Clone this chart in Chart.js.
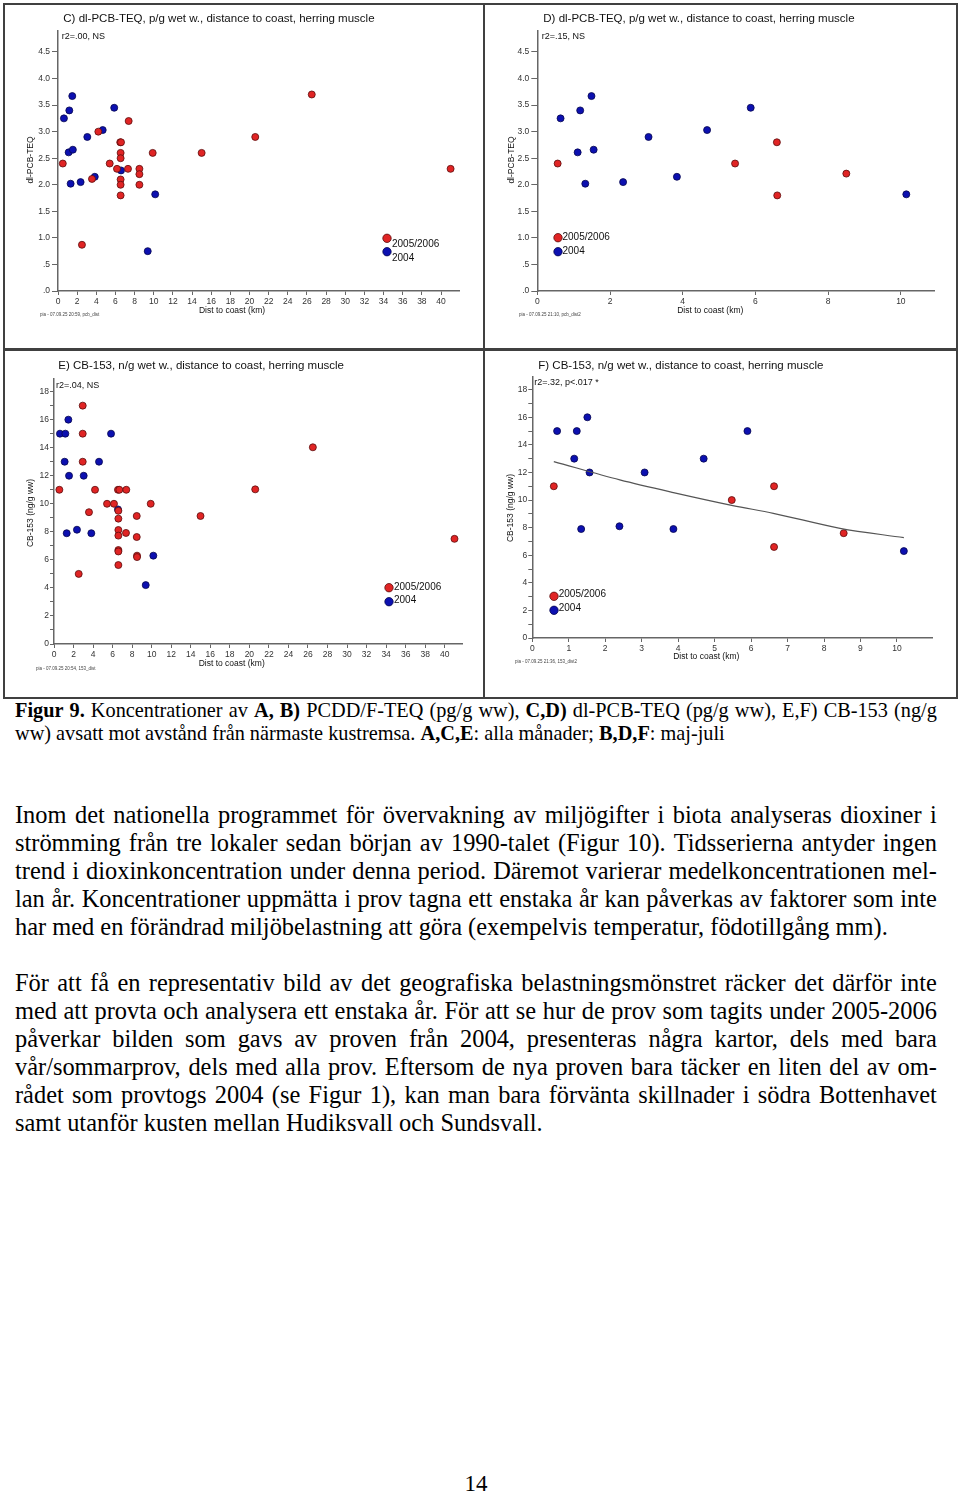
<!DOCTYPE html>
<html><head><meta charset="utf-8">
<script src="https://cdn.jsdelivr.net/npm/chart.js@4.4.1/dist/chart.umd.min.js"></script>
<style>
html,body{margin:0;padding:0;background:#fff;}
body{width:960px;height:1495px;position:relative;overflow:hidden;font-family:"Liberation Sans",Arial,sans-serif;color:#111;}
canvas{position:absolute;}
.t{position:absolute;white-space:nowrap;line-height:1;}
.rot{position:absolute;white-space:nowrap;line-height:1;transform:translate(-50%,-50%) rotate(-90deg);}
.fr{position:absolute;background:#404040;}
.tl{position:absolute;white-space:nowrap;font-family:"Liberation Serif","Times New Roman",serif;color:#000;}
</style></head><body>
<canvas id="cC"></canvas><canvas id="cD"></canvas><canvas id="cE"></canvas><canvas id="cF"></canvas>
<div class="fr" style="left:3px;top:3px;width:955px;height:2px"></div>
<div class="fr" style="left:3px;top:697px;width:955px;height:2px"></div>
<div class="fr" style="left:3px;top:3px;width:2px;height:696px"></div>
<div class="fr" style="left:956px;top:3px;width:2px;height:696px"></div>
<div class="fr" style="left:483px;top:3px;width:2px;height:696px"></div>
<div class="fr" style="left:3px;top:348px;width:955px;height:3px"></div>
<div id="txt"></div>
<script>
// ---------- data ----------
const yTicksTEQ = [0,0.5,1,1.5,2,2.5,3,3.5,4,4.5];
const yTicksCB = [0,1,2,3,4,5,6,7,8,9,10,11,12,13,14,15,16,17,18];
const xTicksWide = [0,2,4,6,8,10,12,14,16,18,20,22,24,26,28,30,32,34,36,38,40];
const xTicksD = [0,2,4,6,8,10];
const xTicksF = [0,1,2,3,4,5,6,7,8,9,10];

const cBlueX = [0.62,1.18,1.49,1.11,1.55,3.06,4.67,5.87,1.32,2.36,3.84,10.15,6.58,9.37];
const cBlueY = [3.25,3.40,3.67,2.61,2.66,2.90,3.03,3.45,2.02,2.05,2.15,1.82,2.27,0.75];
const cRedX = [0.50,4.21,7.38,6.50,6.58,6.54,6.54,5.40,6.16,7.31,8.50,8.50,8.50,6.54,6.54,6.54,3.55,9.89,15.0,20.6,26.5,41.0,2.50];
const cRedY = [2.40,3.00,3.20,2.80,2.80,2.60,2.50,2.40,2.30,2.30,2.30,2.20,2.00,2.10,2.00,1.80,2.11,2.60,2.60,2.90,3.70,2.30,0.87];

const dBlueX = [0.64,1.18,1.49,1.11,1.55,3.06,4.67,5.87,1.32,2.36,3.84,10.15];
const dBlueY = [3.25,3.40,3.67,2.61,2.66,2.90,3.03,3.45,2.02,2.05,2.15,1.82];
const dRedX = [0.56,5.44,6.59,8.50,6.60];
const dRedY = [2.40,2.40,2.80,2.21,1.80];

const eBlueX = [1.47,0.61,1.16,5.84,1.09,4.61,1.54,3.04,6.55,1.30,2.35,3.82,10.17,9.39];
const eBlueY = [16,15,15,15,13,13,12,12,9.6,7.9,8.15,7.9,6.3,4.2];
const eRedX = [2.94,2.94,2.94,0.55,4.20,6.55,6.69,7.40,5.43,6.14,9.90,3.58,6.59,6.59,8.47,6.59,6.59,7.37,8.47,6.59,6.59,8.50,8.50,6.59,2.53,15.0,20.6,26.5,41.0];
const eRedY = [17,15,13,11,11,11,11,11,10,10,10,9.4,9.5,8.94,9.13,8.13,7.73,7.92,7.63,6.7,6.6,6.3,6.2,5.63,5.0,9.13,11.03,14.03,7.5];

const fBlueX = [0.68,1.22,1.51,1.15,1.57,3.08,4.70,5.90,1.34,2.39,3.87,10.19];
const fBlueY = [15,15,16,13,12,12,13,15,7.9,8.1,7.9,6.3];
const fRedX = [0.59,5.47,6.63,6.63,8.54];
const fRedY = [11,10,11,6.6,7.6];
const fTrendX = [0.59,2.40,3.87,5.50,6.61,8.44,10.19];
const fTrendY = [12.79,11.46,10.54,9.60,9.04,7.95,7.27];

const seriesNames = ['2005/2006','2004'];

// ---------- helpers ----------
const FAM = '"Liberation Sans", Arial, sans-serif';
const RED = {bg:'#e02424', bd:'#5a0c0c'};
const BLUE = {bg:'#0c10b0', bd:'#06064e'};
function pts(xs, ys){ return xs.map((x,i)=>({x:x, y:ys[i]})); }
function teqFmt(v){ if (v===0) return '.0'; if (v===0.5) return '.5'; return v.toFixed(1); }
function cbFmt(v){ return (v % 2 === 0) ? String(v) : ''; }
function intFmt(v){ return String(v); }

const legendPlugin = {
  id:'custLegend',
  afterDatasetsDraw(chart, args, o){
    if (!o || !o.items) return;
    const ctx = chart.ctx;
    ctx.save();
    o.items.forEach(it=>{
      ctx.beginPath();
      ctx.arc(it.cx, it.cy, 4.2, 0, Math.PI*2);
      ctx.fillStyle = it.c.bg; ctx.fill();
      ctx.lineWidth = 0.8; ctx.strokeStyle = it.c.bd; ctx.stroke();
      ctx.fillStyle = '#111';
      ctx.font = '10px ' + FAM;
      ctx.textBaseline = 'middle';
      ctx.textAlign = 'left';
      ctx.fillText(it.label, it.tx, it.ty);
    });
    ctx.restore();
  }
};

function makeChart(id, box, area, xMax, yMax, xt, yt, xFmt, yFmt, yTickLen, yPad, datasets, leg){
  const cv = document.getElementById(id);
  cv.width = box.w; cv.height = box.h;
  cv.style.left = box.x+'px'; cv.style.top = box.y+'px';
  cv.style.width = box.w+'px'; cv.style.height = box.h+'px';
  const items = leg.map(l=>({c:l.c, label:l.label, cx:l.cx-box.x, cy:l.cy-box.y, tx:l.tx-box.x, ty:l.ty-box.y}));
  const axisCommon = {
    type:'linear',
    border:{display:true, color:'#666', width:1.5},
  };
  new Chart(cv, {
    type:'scatter',
    data:{datasets:datasets},
    options:{
      animation:false, responsive:false, devicePixelRatio:1, events:[],
      layout:{padding:{left:0, top:area.t-box.y, right:(box.x+box.w)-area.r, bottom:0}},
      plugins:{legend:{display:false}, tooltip:{enabled:false}, custLegend:{items:items}},
      scales:{
        x:Object.assign({}, axisCommon, {
          min:0, max:xMax, position:'bottom',
          grid:{drawOnChartArea:false, drawTicks:true, color:'#666', tickLength:4},
          afterBuildTicks(s){ s.ticks = xt.map(v=>({value:v})); },
          afterFit(s){ s.height = (box.y+box.h) - area.b; },
          ticks:{font:{size:8.5, family:FAM}, color:'#333', padding:2, maxRotation:0, minRotation:0, autoSkip:false, callback:(v)=>xFmt(v)}
        }),
        y:Object.assign({}, axisCommon, {
          min:0, max:yMax, position:'left',
          grid:{drawOnChartArea:false, drawTicks:true, color:'#666', tickLength:yTickLen},
          afterBuildTicks(s){ s.ticks = yt.map(v=>({value:v})); },
          afterFit(s){ s.width = area.l - box.x; },
          ticks:{font:{size:8.5, family:FAM}, color:'#333', padding:yPad, autoSkip:false, callback:(v)=>yFmt(v)}
        })
      }
    },
    plugins:[legendPlugin]
  });
}
function sc(xs, ys, c, label){
  return {label:label, data:pts(xs,ys), pointRadius:3.5, pointBorderWidth:0.8,
          backgroundColor:c.bg, borderColor:c.bd, pointBackgroundColor:c.bg, pointBorderColor:c.bd, showLine:false};
}

// C
makeChart('cC', {x:6,y:6,w:476,h:341}, {l:58,t:31,r:459.5,b:291}, 41.93, 4.895, xTicksWide, yTicksTEQ, intFmt, teqFmt, 6, 2,
  [sc(cRedX,cRedY,RED,seriesNames[0]), sc(cBlueX,cBlueY,BLUE,seriesNames[1])],
  [{c:RED,label:seriesNames[0],cx:387,cy:238.3,tx:392,ty:244.7},{c:BLUE,label:seriesNames[1],cx:387,cy:251.7,tx:392,ty:258}]);
// D
makeChart('cD', {x:486,y:6,w:469,h:341}, {l:537.3,t:31,r:934.3,b:291}, 10.92, 4.895, xTicksD, yTicksTEQ, intFmt, teqFmt, 6, 2,
  [sc(dRedX,dRedY,RED,seriesNames[0]), sc(dBlueX,dBlueY,BLUE,seriesNames[1])],
  [{c:RED,label:seriesNames[0],cx:558,cy:237.7,tx:562.5,ty:237.3},{c:BLUE,label:seriesNames[1],cx:558,cy:251.7,tx:562.5,ty:251.3}]);
// E
makeChart('cE', {x:6,y:352,w:476,h:344}, {l:54,t:379,r:462.7,b:644}, 41.84, 18.9, xTicksWide, yTicksCB, intFmt, cbFmt, 4, 1,
  [sc(eRedX,eRedY,RED,seriesNames[0]), sc(eBlueX,eBlueY,BLUE,seriesNames[1])],
  [{c:RED,label:seriesNames[0],cx:389,cy:587.7,tx:394,ty:587},{c:BLUE,label:seriesNames[1],cx:389,cy:601.7,tx:394,ty:600.3}]);
// F
makeChart('cF', {x:486,y:352,w:469,h:344}, {l:532.3,t:377,r:932.3,b:638}, 10.97, 18.92, xTicksF, yTicksCB, intFmt, cbFmt, 4, 1,
  [{type:'line', label:'trend', data:pts(fTrendX,fTrendY), borderColor:'#555', borderWidth:1.2, pointRadius:0, fill:false, showLine:true, cubicInterpolationMode:'monotone'},
   sc(fRedX,fRedY,RED,seriesNames[0]), sc(fBlueX,fBlueY,BLUE,seriesNames[1])],
  [{c:RED,label:seriesNames[0],cx:554,cy:596.3,tx:558.7,ty:594.3},{c:BLUE,label:seriesNames[1],cx:554,cy:610.3,tx:558.7,ty:608}]);

// ---------- texts ----------
const T = document.getElementById('txt');
function t(x, yc, s, size, extra){
  const d = document.createElement('div'); d.className='t';
  d.style.left = x+'px'; d.style.top = (yc - size*0.5)+'px'; d.style.fontSize = size+'px';
  if (extra) d.style.cssText += extra;
  d.textContent = s; T.appendChild(d); return d;
}
function tc(xc, yc, s, size){
  const d = t(xc, yc, s, size); d.style.transform = 'translateX(-50%)'; return d;
}
function tr(xc, yc, s, size){
  const d = document.createElement('div'); d.className='rot';
  d.style.left = xc+'px'; d.style.top = yc+'px'; d.style.fontSize = size+'px';
  d.textContent = s; T.appendChild(d);
}
t(63.3, 18.3, 'C) dl-PCB-TEQ, p/g wet w., distance to coast, herring muscle', 11.5);
t(543.3, 18.3, 'D) dl-PCB-TEQ, p/g wet w., distance to coast, herring muscle', 11.5);
t(58.3, 366, 'E) CB-153, n/g wet w., distance to coast, herring muscle', 11.5);
t(538.3, 365.7, 'F) CB-153, n/g wet w., distance to coast, herring muscle', 11.5);
t(61.7, 36, 'r2=.00, NS', 9);
t(541.7, 36, 'r2=.15, NS', 9);
t(56, 385, 'r2=.04, NS', 9);
t(534.3, 382.3, 'r2=.32, p<.017 *', 9);
tc(232, 310, 'Dist to coast (km)', 8.5);
tc(710.3, 310, 'Dist to coast (km)', 8.5);
tc(231.7, 663.3, 'Dist to coast (km)', 8.5);
tc(706.3, 656.7, 'Dist to coast (km)', 8.5);
tr(30, 160, 'dl-PCB-TEQ', 8.5);
tr(511, 160, 'dl-PCB-TEQ', 8.5);
tr(30, 513, 'CB-153 (ng/g ww)', 8.5);
tr(509.5, 508, 'CB-153 (ng/g ww)', 8.5);
t(40, 315.7, 'pia - 07.09.25 20:59, pcb_dist', 4.5, 'color:#444');
t(519, 315.7, 'pia - 07.09.25 21:10, pcb_dist2', 4.5, 'color:#444');
t(36, 669, 'pia - 07.09.25 20:54, 153_dist', 4.5, 'color:#444');
t(515, 662.7, 'pia - 07.09.25 21:36, 153_dist2', 4.5, 'color:#444');

function line(html, x, baseline, width, size, lh, justify){
  const d = document.createElement('div'); d.className='tl';
  const top = baseline - ((lh - 1.107*size)/2 + 0.891*size);
  d.style.left = x+'px'; d.style.top = top+'px'; d.style.width = width+'px';
  d.style.fontSize = size+'px'; d.style.lineHeight = lh+'px';
  if (justify){
    d.style.display='flex'; d.style.justifyContent='space-between';
    html.split(' ').forEach(w=>{ const s=document.createElement('span'); s.innerHTML=w; d.appendChild(s); });
  } else d.innerHTML = html;
  T.appendChild(d);
}
const capLines = [
 '<b>Figur</b> <b>9.</b> Koncentrationer av <b>A,</b> <b>B)</b> PCDD/F-TEQ (pg/g ww), <b>C,D)</b> dl-PCB-TEQ (pg/g ww), E,F) CB-153 (ng/g',
 'ww) avsatt mot avstånd från närmaste kustremsa. <b>A,C,E</b>: alla månader; <b>B,D,F</b>: maj-juli'
];
line(capLines[0], 15, 717, 922, 20.3, 23, true);
line(capLines[1], 15, 740, 922, 20.3, 23, false);
const p1 = [
 'Inom det nationella programmet för övervakning av miljögifter i biota analyseras dioxiner i',
 'strömming från tre lokaler sedan början av 1990-talet (Figur 10). Tidsserierna antyder ingen',
 'trend i dioxinkoncentration under denna period. Däremot varierar medelkoncentrationen mel-',
 'lan år. Koncentrationer uppmätta i prov tagna ett enstaka år kan påverkas av faktorer som inte',
 'har med en förändrad miljöbelastning att göra (exempelvis temperatur, födotillgång mm).'
];
const p2 = [
 'För att få en representativ bild av det geografiska belastningsmönstret räcker det därför inte',
 'med att provta och analysera ett enstaka år. För att se hur de prov som tagits under 2005-2006',
 'påverkar bilden som gavs av proven från 2004, presenteras några kartor, dels med bara',
 'vår/sommarprov, dels med alla prov. Eftersom de nya proven bara täcker en liten del av om-',
 'rådet som provtogs 2004 (se Figur 1), kan man bara förvänta skillnader i södra Bottenhavet',
 'samt utanför kusten mellan Hudiksvall och Sundsvall.'
];
p1.forEach((s,i)=>line(s, 15, 823 + i*28, 922, 24.4, 28, i < p1.length-1));
p2.forEach((s,i)=>line(s, 15, 991 + i*28, 922, 24.4, 28, i < p2.length-1));
const pn = document.createElement('div'); pn.className='tl';
pn.style.cssText += 'left:0;width:952px;text-align:center;font-size:23px;line-height:28px;top:'+(1492-21.6)+'px';
pn.textContent = '14'; T.appendChild(pn);
</script>
</body></html>
